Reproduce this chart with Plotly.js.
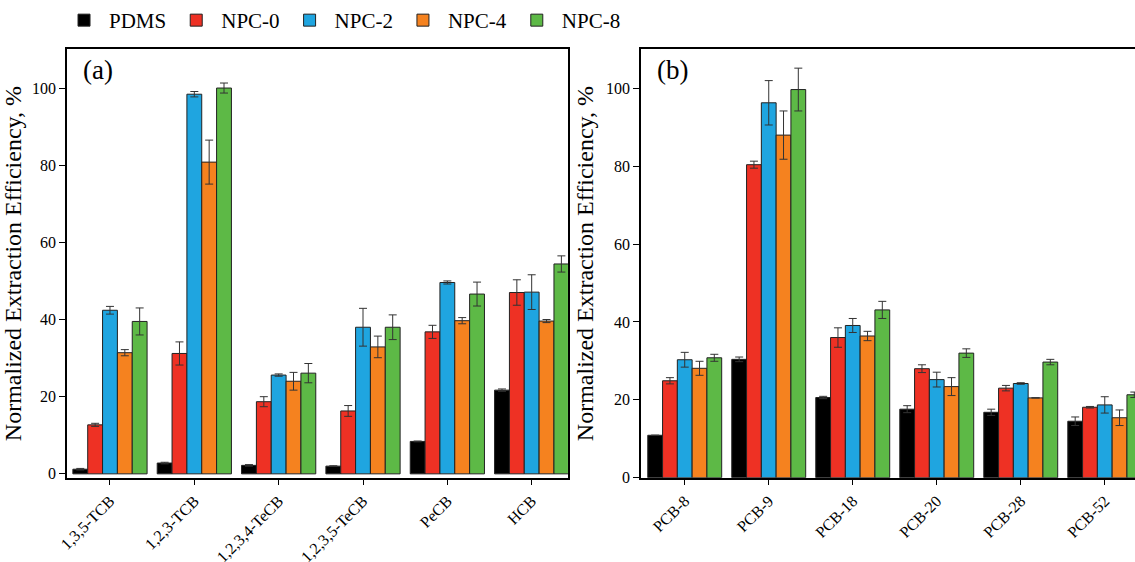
<!DOCTYPE html>
<html>
<head>
<meta charset="utf-8">
<script src="https://cdn.plot.ly/plotly-3.0.1.min.js"></script>
<style>body{margin:0;background:#fff}#chart{width:1135px;height:562px}</style>
</head>
<body>
<div id="chart"></div>
<script>
let series = ['PDMS', 'NPC-0', 'NPC-2', 'NPC-4', 'NPC-8'];
let colors = ['#000000', '#ee3124', '#1fa5e0', '#f5821f', '#5db946'];

let catsA = ['1,3,5-TCB', '1,2,3-TCB', '1,2,3,4-TeCB', '1,2,3,5-TeCB', 'PeCB', 'HCB'];
// rows: PDMS, NPC-0, NPC-2, NPC-4, NPC-8
let valsA = [
  [1.2, 2.8, 2.2, 2.0, 8.4, 21.7],
  [12.7, 31.2, 18.7, 16.3, 36.8, 47.0],
  [42.4, 98.4, 25.6, 38.0, 49.6, 47.1],
  [31.4, 80.8, 24.0, 32.9, 39.7, 39.6],
  [39.5, 100.0, 26.1, 38.0, 46.6, 54.4]
];
let errA = [
  [0.2, 0.2, 0.2, 0.1, 0.1, 0.3],
  [0.4, 3.0, 1.3, 1.4, 1.7, 3.3],
  [1.0, 0.7, 0.3, 4.9, 0.4, 4.5],
  [0.8, 5.7, 2.3, 2.8, 0.8, 0.4],
  [3.5, 1.3, 2.5, 3.2, 3.1, 2.1]
];

let catsB = ['PCB-8', 'PCB-9', 'PCB-18', 'PCB-20', 'PCB-28', 'PCB-52'];
let valsB = [
  [10.9, 30.4, 20.6, 17.6, 16.8, 14.5],
  [24.9, 80.4, 36.0, 28.0, 23.0, 18.1],
  [30.3, 96.3, 39.1, 25.2, 24.2, 18.7],
  [28.1, 88.0, 36.4, 23.4, 20.5, 15.4],
  [30.8, 99.7, 43.1, 32.0, 29.7, 21.3]
];
let errB = [
  [0.0, 0.6, 0.3, 0.9, 0.8, 1.1],
  [0.8, 0.9, 2.5, 1.0, 0.7, 0.2],
  [1.9, 5.7, 1.8, 1.9, 0.2, 2.1],
  [1.8, 6.2, 1.2, 2.3, 0.0, 2.0],
  [0.9, 5.5, 2.2, 1.1, 0.7, 0.7]
];

let serif = 'Liberation Serif, Times New Roman, DejaVu Serif, serif';

let data = [];
series.forEach(function (name, i) {
  let common = {
    type: 'bar',
    name: name,
    marker: { color: colors[i], line: { color: '#222', width: 1 } }
  };
  data.push(Object.assign({}, common, {
    x: catsA, y: valsA[i], xaxis: 'x', yaxis: 'y', showlegend: true,
    error_y: { type: 'data', array: errA[i], visible: true, color: '#333', thickness: 1, width: 4 }
  }));
  data.push(Object.assign({}, common, {
    x: catsB, y: valsB[i], xaxis: 'x2', yaxis: 'y2', showlegend: false,
    error_y: { type: 'data', array: errB[i], visible: true, color: '#333', thickness: 1, width: 4 }
  }));
});

let axisStyle = {
  showline: true, linecolor: '#000', linewidth: 1.5, mirror: true,
  ticks: 'outside', ticklen: 6, tickcolor: '#000', showgrid: false, zeroline: false,
  tickfont: { family: serif, size: 16, color: '#000' }, automargin: false
};

let ytitle = { text: 'Normalized Extraction Efficiency, %', font: { family: serif, size: 24, color: '#000' }, standoff: 6 };

let layout = {
  width: 1135, height: 562,
  margin: { l: 0, r: 0, t: 0, b: 0 },
  paper_bgcolor: '#fff', plot_bgcolor: '#fff',
  barmode: 'group', bargap: 0.12, bargroupgap: 0,
  font: { family: serif, color: '#000' },
  showlegend: true,
  legend: {
    orientation: 'h', x: 0.052, y: 1.0, xanchor: 'left', yanchor: 'top',
    font: { family: serif, size: 21, color: '#000' }, itemwidth: 40
  },
  xaxis: Object.assign({}, axisStyle, { domain: [0.059, 0.5004], range: [-0.51, 5.43], tickangle: -45, anchor: 'y' }),
  yaxis: Object.assign({}, axisStyle, { domain: [0.150, 0.912], range: [-1, 110], tickvals: [0, 20, 40, 60, 80, 100], anchor: 'x', title: ytitle }),
  xaxis2: Object.assign({}, axisStyle, { domain: [0.5648, 1], range: [-0.52, 5.36], tickangle: -45, anchor: 'y2' }),
  yaxis2: Object.assign({}, axisStyle, { domain: [0.150, 0.912], range: [0, 110], tickvals: [0, 20, 40, 60, 80, 100], anchor: 'x2', title: ytitle }),
  annotations: [
    { text: '(a)', xref: 'paper', yref: 'paper', x: 0.071, y: 0.905, xanchor: 'left', yanchor: 'top', showarrow: false, font: { family: serif, size: 27, color: '#000' } },
    { text: '(b)', xref: 'paper', yref: 'paper', x: 0.577, y: 0.905, xanchor: 'left', yanchor: 'top', showarrow: false, font: { family: serif, size: 27, color: '#000' } }
  ]
};

Plotly.newPlot('chart', data, layout, { displayModeBar: false });
</script>
</body>
</html>
